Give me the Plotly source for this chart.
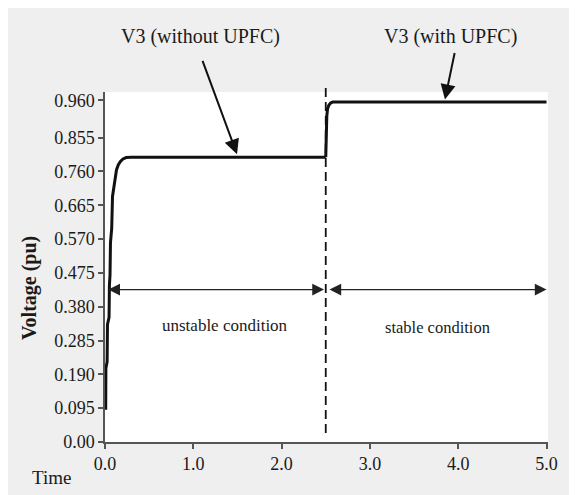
import plotly.graph_objects as go

# ---- data ----
t_without = [0.0, 0.008, 0.010, 0.024, 0.028, 0.046, 0.050, 0.057, 0.062, 0.076, 0.085,
             0.100, 0.113, 0.130, 0.150, 0.175, 0.204, 0.240, 0.300, 2.500]
v_without = [0.095, 0.095, 0.207, 0.225, 0.330, 0.350, 0.440, 0.470, 0.560, 0.600, 0.690,
             0.720, 0.745, 0.764, 0.778, 0.788, 0.795, 0.799, 0.800, 0.800]

t_with = [2.500, 2.505, 2.512, 2.520, 2.535, 2.555, 2.580, 2.620, 5.000]
v_with = [0.800, 0.870, 0.915, 0.935, 0.946, 0.952, 0.955, 0.955, 0.955]

y_tickvals = [0.0, 0.095, 0.190, 0.285, 0.380, 0.475, 0.570, 0.665, 0.760, 0.855, 0.960]
y_ticktext = ["0.00", "0.095", "0.190", "0.285", "0.380", "0.475", "0.570", "0.665",
              "0.760", "0.855", "0.960"]
x_tickvals = [0, 1, 2, 3, 4, 5]
x_ticktext = ["0.0", "1.0", "2.0", "3.0", "4.0", "5.0"]

switch_time = 2.5
region_arrow_y = 0.428
label_without = "V3 (without UPFC)"
label_with = "V3 (with UPFC)"

FONT = "Liberation Serif, Times New Roman, serif"
TXT = "#1a1a1a"
AX = "#555555"

fig = go.Figure()
fig.add_trace(go.Scatter(x=t_without, y=v_without, mode="lines",
                         line=dict(color="#111111", width=3), showlegend=False,
                         hoverinfo="skip"))
fig.add_trace(go.Scatter(x=t_with, y=v_with, mode="lines",
                         line=dict(color="#111111", width=3), showlegend=False,
                         hoverinfo="skip"))

W, H = 577, 495
OFF = 8  # page body margin
L, R, T, B = 97, 37, 84, 61
pw, ph = W - L - R, H - T - B


def px_x(px):
    return (px - OFF - L) / pw


def px_y(py):
    return (H - B - (py - OFF)) / ph


fig.update_layout(
    width=W, height=H,
    margin=dict(l=L, r=R, t=T, b=B),
    paper_bgcolor="#efefef",
    plot_bgcolor="#ffffff",
    font=dict(family=FONT, color=TXT, size=18),
    xaxis=dict(range=[0, 5.017], tickvals=x_tickvals, ticktext=x_ticktext,
               showgrid=False, zeroline=False, showline=True, linecolor=AX,
               linewidth=1.5, ticks="outside", ticklen=5, tickcolor=AX, tickwidth=1.5,
               tickfont=dict(family=FONT, size=18, color=TXT)),
    yaxis=dict(range=[0, 0.983], tickvals=y_tickvals, ticktext=y_ticktext,
               showgrid=False, zeroline=False, showline=True, linecolor=AX,
               linewidth=1.5, ticks="outside", ticklen=5, tickcolor=AX, tickwidth=1.5,
               tickfont=dict(family=FONT, size=18, color=TXT)),
)

# dashed switching line
fig.add_shape(type="line", xref="x", yref="paper", x0=switch_time, x1=switch_time,
              y0=px_y(433), y1=px_y(88), line=dict(color="#111111", width=1.8,
                                                   dash="9px,5px"))

# region arrows
for x0, x1 in [(0.02, 2.48), (2.525, 5.0)]:
    fig.add_annotation(x=x1, y=region_arrow_y, ax=x0, ay=region_arrow_y,
                       xref="x", yref="y", axref="x", ayref="y", text="",
                       showarrow=True, arrowside="end+start", arrowhead=2,
                       arrowsize=1.8, arrowwidth=1.3, arrowcolor="#222222")

fig.add_annotation(x=1.36, y=0.328, xref="x", yref="y", text="unstable condition",
                   showarrow=False, font=dict(family=FONT, size=17, color=TXT))
fig.add_annotation(x=3.77, y=0.322, xref="x", yref="y", text="stable condition",
                   showarrow=False, font=dict(family=FONT, size=16.5, color=TXT))

# series labels with arrows
fig.add_annotation(x=px_x(200), y=px_y(36), xref="paper", yref="paper",
                   xanchor="center", yanchor="middle",
                   text=label_without, showarrow=False,
                   font=dict(family=FONT, size=20, color=TXT))
fig.add_annotation(x=px_x(450), y=px_y(36), xref="paper", yref="paper",
                   xanchor="center", yanchor="middle",
                   text=label_with, showarrow=False,
                   font=dict(family=FONT, size=20, color=TXT))
fig.add_annotation(x=1.495, y=0.808, xref="x", yref="y", ax=-35, ay=-95, text="",
                   showarrow=True, arrowhead=2, arrowsize=1.5, arrowwidth=2,
                   arrowcolor="#111111")
fig.add_annotation(x=3.85, y=0.962, xref="x", yref="y", ax=10, ay=-48, text="",
                   showarrow=True, arrowhead=2, arrowsize=1.5, arrowwidth=2,
                   arrowcolor="#111111")

# axis titles
fig.add_annotation(x=px_x(29), y=px_y(288), xref="paper", yref="paper",
                   xanchor="center", yanchor="middle",
                   text="<b>Voltage (pu)</b>", textangle=-90, showarrow=False,
                   font=dict(family=FONT, size=20, color=TXT))
fig.add_annotation(x=px_x(51), y=px_y(477), xref="paper", yref="paper",
                   xanchor="center", yanchor="middle",
                   text="Time", showarrow=False,
                   font=dict(family=FONT, size=19, color=TXT))

fig.write_html("out.html")
